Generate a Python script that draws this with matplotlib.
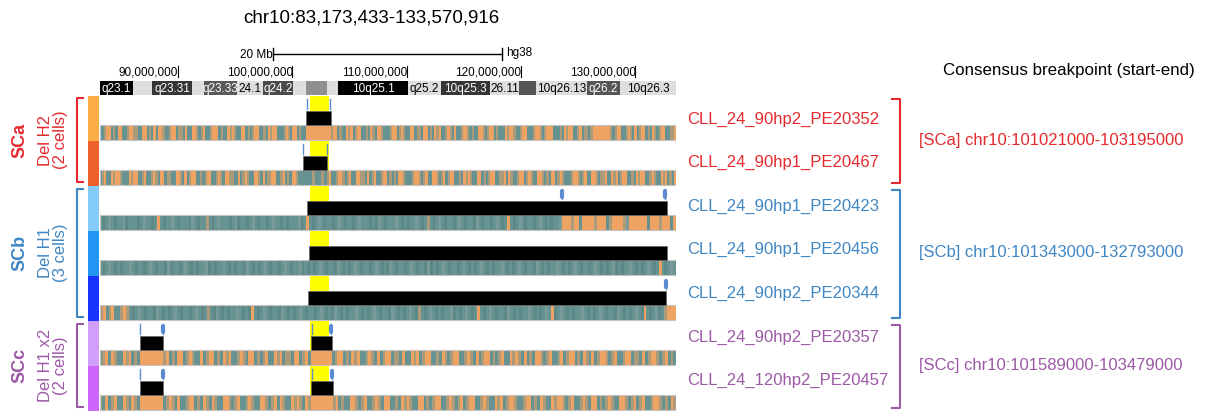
import matplotlib
matplotlib.use("Agg")
import matplotlib.pyplot as plt
from matplotlib.patches import Rectangle

plt.rcParams['font.family'] = ['Liberation Sans', 'DejaVu Sans']

# ---------------------------------------------------------------- data
chrom = "chr10"
genome = "hg38"
region_start = 83_173_433
region_end = 133_570_916
tick_positions = [90_000_000, 100_000_000, 110_000_000, 120_000_000, 130_000_000]
scale_bar_mb = 20

# cytobands (Mb)
band_starts = [83.17, 86.07, 87.78, 91.22, 92.33, 95.16, 97.48, 100.10, 101.21,
               103.08, 104.04, 110.16, 112.99, 117.30, 119.86, 121.32, 125.75, 128.66]
band_ends = [86.07, 87.78, 91.22, 92.33, 95.16, 97.48, 100.10, 101.21, 103.08,
             104.04, 110.16, 112.99, 117.30, 119.86, 121.32, 125.75, 128.66, 133.58]
band_labels = ["q23.1", "", "q23.31", "", "q23.33", "24.1", "q24.2", "", "",
               "", "10q25.1", "q25.2", "10q25.3", "26.11", "", "10q26.13", "q26.2", "10q26.3"]
band_colors = ["#000000", "#dedede", "#363636", "#dedede", "#5a5a5a", "#dedede", "#4a4a4a",
               "#dedede", "#8f8f8f", "#dedede", "#000000", "#dedede", "#363636", "#dedede",
               "#555555", "#dedede", "#555555", "#dedede"]

# cells
cell_names = ["CLL_24_90hp2_PE20352", "CLL_24_90hp1_PE20467", "CLL_24_90hp1_PE20423",
              "CLL_24_90hp1_PE20456", "CLL_24_90hp2_PE20344", "CLL_24_90hp2_PE20357",
              "CLL_24_120hp2_PE20457"]
cell_colors = ["#f9ad44", "#f0602b", "#82cbfb", "#2196f5", "#1634fb", "#d19ef9", "#cc66fb"]

# deletion calls per cell (Mb)
del_PE20352 = [(101.21, 103.37)]
del_PE20467 = [(100.93, 103.03)]
del_PE20423 = [(101.33, 132.74)]
del_PE20456 = [(101.50, 132.80)]
del_PE20344 = [(101.42, 132.66)]
del_PE20357 = [(86.71, 88.74), (101.63, 103.46)]
del_PE20457 = [(86.71, 88.74), (101.63, 103.55)]

# breakpoint markers per cell (Mb, 'thin' or 'blob')
bp_PE20352 = [(101.27, "thin"), (103.31, "thin")]
bp_PE20467 = [(100.93, "thin"), (103.03, "thin")]
bp_PE20423 = [(123.57, "blob"), (132.60, "blob")]
bp_PE20456 = []
bp_PE20344 = [(132.66, "blob")]
bp_PE20357 = [(86.70, "thin"), (88.69, "blob"), (101.71, "thin"), (103.37, "blob")]
bp_PE20457 = [(86.70, "thin"), (88.69, "blob"), (101.71, "thin"), (103.46, "blob")]

# phased SNP stripes: (start Mb, end Mb, calls)
# o = H2 allele, t/d/l = H1 allele (shade varies with depth), m = both
hap_PE20352 = [
    (83.173, 101.21,
     "ttmootmtoottmoommttootmtotoomttmootmmtottoomtmottmoootmttomomttootmtmoottmtomootttmomtootmtt"),
    (101.21, 103.37, "o"),
    (103.37, 133.571,
     "mootmttomotmoottmtomtoomtttmootmomttootmmtootmtomottmomtottmoomtmttoomtmootmtttomoomttmoot"
     "ttmoomtmoootttmtomoottmotmmtmoooooooomtmoottmomtotmootmtomtmoottmmo"),
]
hap_PE20467 = [
    (83.173, 100.93,
     "tmottomoomtttomoottmottmomtootmmttoomtotmoottmtmoottmomtoommttotmomttoomtotmmoottmotmtoomtt"),
    (100.93, 103.03, "tttmttmt"),
    (103.03, 133.571,
     "mottmoomtmottoommtotmottmootmtmtoomtttmoomtmottoomtmotmoottmtomomttootmtmoottmmotomttmoot"
     "momttoomtmtootmomtttmoomtmottoomtmmottomotmoottmtomoottmomttomotmto"),
]
hap_PE20423 = [
    (83.173, 123.57,
     "tdtltdttldtttdtlttdtotdttltdtttdltdttmtdtltttdtldttdtltdttdtlttdtdtttldtotdtltdttdtltdtt"
     "dtltttdtdltdtttltdtdttltdtmtdtltdttdtltdttdltdttdtltdtotdtltdttdtltdtdttl"),
    (123.57, 133.571, "ooomootoooomoootmoooomlooooootooomoooto"),
]
hap_PE20456 = [
    (83.173, 133.571,
     "tdtltdtdttltdttdtltdttdldttdtltdtdttldtdttltdtdttdltdtdtltdttdtltdttldtdtdtltdttdltdtdt"
     "ltdttdtltdtdltdttdtltdttdldtdtltdttdtltdtdtltdtdttltdtdtltdttdltdtdttltdtdtltdttdtltdtdt"
     "ldtdttltdtdtltdtotdtlt"),
]
hap_PE20344 = [
    (83.173, 133.571,
     "motmottmomtdtltdttdltdtdtltdttdtltdtmtdltdtdttltdtdotdtltdttdltdtdtltdttdtltdtdltdtdttl"
     "tdtdtltdttdltdtdtltdmtdtltdtdttldtdtltdtotdtltdttdltdtdttltdtdtltodtltdtdttltdtdtltdttd"
     "ltdtdtltdotdtldtmooo"),
]
hap_PE20357 = [
    (83.173, 86.71, "tmotomttomotmt"),
    (86.71, 88.74, "o"),
    (88.74, 101.63, "motmtootmomttotmootmtomottmomtootmtmottomotmmtootmot"),
    (101.63, 103.46, "o"),
    (103.46, 133.571,
     "tmootmtomottmomtotmootmmtottomotmoottmtomtmoottmomtotmootmtmottomomtotmtoomtmottmotmootm"
     "tomtotmoomtmottmootmmtotmoomtmotmt"),
]
hap_PE20457 = [
    (83.173, 86.71, "mtotmottomtomt"),
    (86.71, 88.74, "o"),
    (88.74, 101.63, "tmomtottmootmtomtomttoomtmottmomttoomtmotomttomomtom"),
    (101.63, 103.55, "o"),
    (103.55, 133.571,
     "motmttoomtmottmomtoottmtomomttootmtmoottmomtmotmoottmomttomotmoomttmootmtomttomoomtmottm"
     "omtootmtmomttoomtmotmottmoomtmtom"),
]

deletions = [del_PE20352, del_PE20467, del_PE20423, del_PE20456, del_PE20344, del_PE20357, del_PE20457]
breakpoints = [bp_PE20352, bp_PE20467, bp_PE20423, bp_PE20456, bp_PE20344, bp_PE20357, bp_PE20457]
haplotypes = [hap_PE20352, hap_PE20467, hap_PE20423, hap_PE20456, hap_PE20344, hap_PE20357, hap_PE20457]

# subclones
group_names = ["SCa", "SCb", "SCc"]
group_desc = ["Del H2\n(2 cells)", "Del H1\n(3 cells)", "Del H1 x2\n(2 cells)"]
group_colors = ["#e52a2e", "#3f86c4", "#9c59a6"]
group_first_row = [0, 2, 5]
group_last_row = [1, 4, 6]
consensus_start = [101021000, 101343000, 101589000]
consensus_end = [103195000, 132793000, 103479000]

# ---------------------------------------------------------------- layout
W, H = 1226, 412
X0, X1 = 99.6, 676.2          # track area, pixels
ROW_TOP0, ROW_H = 96, 45
BAR_OFF, BAR_H = 15, 14
HAP_OFF, HAP_H = 29, 15

hap_cols = {"o": "#efa363", "t": "#669292", "d": "#5c8888", "l": "#789b98", "m": "#ab9b7b"}
C_MARK = "#5b8bd0"

fig = plt.figure(figsize=(W / 100, H / 100), dpi=100)
ov = fig.add_axes([0, 0, 1, 1])
ov.set_xlim(0, W)
ov.set_ylim(H, 0)
ov.axis("off")

ax = fig.add_axes([X0 / W, 0, (X1 - X0) / W, 1])
ax.set_xlim(region_start / 1e6, region_end / 1e6)
ax.set_ylim(H, 0)
ax.axis("off")

row_tops = [ROW_TOP0 + ROW_H * i for i in range(len(cell_names))]

# title
ov.text(371, 18, f"{chrom}:{region_start:,}-{region_end:,}", ha="center", va="center", fontsize=13.5)

# scale bar centred on the region
mid = (region_start + region_end) / 2e6
sb0, sb1 = mid - scale_bar_mb / 2, mid + scale_bar_mb / 2
ax.plot([sb0, sb1], [54, 54], color="black", lw=1)
ax.plot([sb0, sb0], [48, 60], color="black", lw=1)
ax.plot([sb1, sb1], [48, 60], color="black", lw=1)
ax.text(sb0 - 0.1, 55, f"{scale_bar_mb} Mb", ha="right", va="center", fontsize=8.5)
ax.text(sb1 + 0.3, 53, genome, ha="left", va="center", fontsize=8.5)

# coordinate ticks
for t in tick_positions:
    x = t / 1e6
    ax.plot([x, x], [66, 77], color="black", lw=0.8)
    ax.text(x + 0.05, 72, f"{t:,}", ha="right", va="center", fontsize=8.5)

# ideogram
for s, e, lab, c in zip(band_starts, band_ends, band_labels, band_colors):
    ax.add_patch(Rectangle((s, 81), e - s, 14, facecolor=c, edgecolor="none", zorder=2))
    if lab:
        dark = c != "#dedede"
        ax.text((s + e) / 2, 88.5, lab, ha="center", va="center", fontsize=8.5,
                color="white" if dark else "black", zorder=3)

# shared breakpoint window
hs, he = max(consensus_start) / 1e6, min(consensus_end) / 1e6
ax.add_patch(Rectangle((hs, ROW_TOP0), he - hs, ROW_H * len(cell_names),
                       facecolor="#ffff00", edgecolor="none", zorder=0))

for i, top in enumerate(row_tops):
    # phased SNP stripes
    for s, e, calls in haplotypes[i]:
        w = (e - s) / len(calls)
        runs = {}
        j = 0
        while j < len(calls):
            k = j
            while k < len(calls) and calls[k] == calls[j]:
                k += 1
            runs.setdefault(calls[j], []).append((s + j * w, (k - j) * w))
            j = k
        for ch, r in runs.items():
            ax.broken_barh(r, (top + HAP_OFF, HAP_H), facecolors=hap_cols[ch],
                           edgecolor="none", zorder=2)
    ax.add_patch(Rectangle((region_start / 1e6, top + HAP_OFF), (region_end - region_start) / 1e6,
                           HAP_H, fill=False, edgecolor="#c4c4c4", lw=0.8, zorder=3))
    # deletion calls
    ax.broken_barh([(s, e - s) for s, e in deletions[i]], (top + BAR_OFF, BAR_H),
                   facecolors="black", edgecolor="#666666", lw=0.5, zorder=3)
    # breakpoint markers
    for p, kind in breakpoints[i]:
        ax.plot([p, p], [top + 3, top + 13], color=C_MARK, lw=1, zorder=4)
        if kind == "blob":
            ax.plot([p, p], [top + 5, top + 11], color=C_MARK, lw=3,
                    solid_capstyle="round", zorder=4)
    # cell colour key
    ov.add_patch(Rectangle((88.3, top), 10.7, ROW_H, facecolor=cell_colors[i], edgecolor="none"))

# cell labels
for i, name in enumerate(cell_names):
    g = [k for k in range(3) if group_first_row[k] <= i <= group_last_row[k]][0]
    ov.text(687, 119 + 43.6 * i, name, ha="left", va="center", fontsize=12, color=group_colors[g])

# header of consensus column
ov.text(1069, 70, "Consensus breakpoint (start-end)", ha="center", va="center", fontsize=12.2)

# subclone brackets and labels
for k in range(3):
    y0 = row_tops[group_first_row[k]] + (2 if k == 0 else 3)
    y1 = row_tops[group_last_row[k]] + ROW_H - 4
    c = group_colors[k]
    ov.plot([82.5, 76.5, 76.5, 82.5], [y0, y0, y1, y1], color=c, lw=1.5,
            solid_joinstyle="round")
    ov.plot([892, 900, 900, 892], [y0 + 1, y0 + 1, y1 + 1, y1 + 1], color=c, lw=1.5,
            solid_joinstyle="round")
    yc = (y0 + y1) / 2
    ov.text(20, yc, group_names[k], rotation=90, ha="center", va="center",
            fontsize=13, fontweight="bold", color=c)
    ov.text(53, yc, group_desc[k], rotation=90, ha="center", va="center",
            fontsize=12, color=c, linespacing=1.05, multialignment="center")
    ov.text(919, yc, f"[{group_names[k]}] {chrom}:{consensus_start[k]}-{consensus_end[k]}",
            ha="left", va="center", fontsize=12, color=c)

fig.savefig("out.png", dpi=100)
